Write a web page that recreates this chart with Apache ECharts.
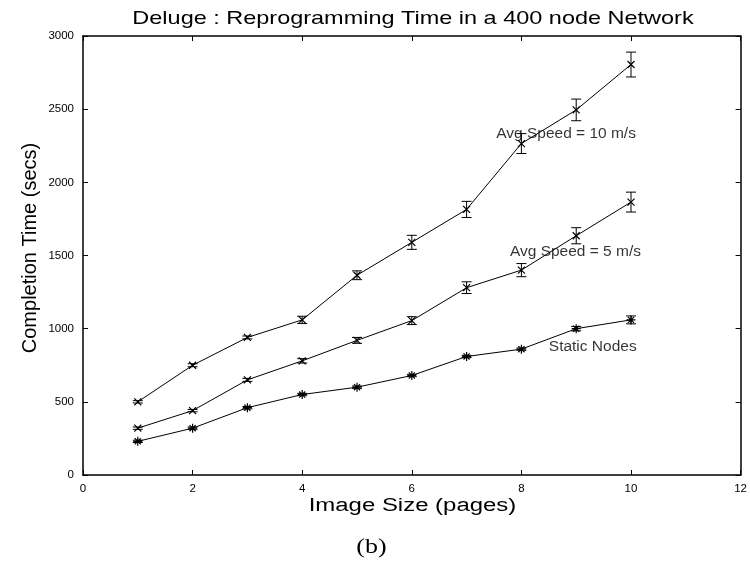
<!DOCTYPE html>
<html>
<head>
<meta charset="utf-8">
<script src="https://cdn.jsdelivr.net/npm/echarts@6/dist/echarts.min.js"></script>
<style>html,body{margin:0;padding:0;background:#fff;}#c{width:750px;height:564px;}</style>
</head>
<body>
<div id="c"></div>
<script>
const imageSizes = [1, 2, 3, 4, 5, 6, 7, 8, 9, 10];
const staticNodes = [230, 320, 460, 550, 600, 680, 810, 860, 1000, 1060];
const staticErr   = [8, 8, 8, 8, 8, 8, 8, 8, 15, 27];
const speed5      = [320, 440, 650, 780, 920, 1055, 1280, 1400, 1635, 1865];
const speed5Err   = [8, 8, 10, 15, 20, 27, 40, 45, 55, 68];
const speed10     = [500, 750, 940, 1060, 1365, 1590, 1815, 2265, 2495, 2805];
const speed10Err  = [8, 10, 10, 25, 30, 48, 55, 68, 74, 85];
const xTicks = [0, 12, 2];
const yTicks = [0, 3000, 500];
const annotations = [
  [7.54, 2330, 'Avg Speed = 10 m/s'],
  [7.79, 1524, 'Avg Speed = 5 m/s'],
  [8.50, 875, 'Static Nodes']
];
const titleText = 'Deluge : Reprogramming Time in a 400 node Network';
const xName = 'Image Size (pages)';
const yName = 'Completion Time (secs)';
const caption = '(b)';

const FONT = '"Liberation Sans", Arial, Helvetica, sans-serif';
const asterisk = 'path://M5,0L5,10M0,5L10,5M1.6,1.6L8.4,8.4M1.6,8.4L8.4,1.6';
const cross = 'path://M0,0L10,10M0,10L10,0';

function pts(vals){ return imageSizes.map((x,i)=>[x, vals[i]]); }
function errs(vals, e){ return imageSizes.map((x,i)=>[x, vals[i]-e[i], vals[i]+e[i]]); }

function lineSeries(vals, sym, size){
  return {
    type:'line', xAxisIndex:0, yAxisIndex:0, data: pts(vals),
    symbol: sym, symbolSize: size, showSymbol:true,
    lineStyle:{color:'#000', width:1},
    itemStyle:{color:'rgba(0,0,0,0)', borderColor:'#000', borderWidth:1.2},
    emphasis:{disabled:true}, animation:false, z:3
  };
}
function errSeries(vals, e){
  return {
    type:'custom', xAxisIndex:0, yAxisIndex:0, data: errs(vals, e),
    encode:{x:0, y:[1,2]}, animation:false, z:4,
    renderItem:function(params, api){
      const xv = api.value(0);
      const lo = api.coord([xv, api.value(1)]);
      const hi = api.coord([xv, api.value(2)]);
      const w = 5;
      const st = {stroke:'#000', lineWidth:1};
      return {type:'group', children:[
        {type:'line', shape:{x1:lo[0], y1:lo[1], x2:hi[0], y2:hi[1]}, style:st},
        {type:'line', shape:{x1:lo[0]-w, y1:lo[1], x2:lo[0]+w, y2:lo[1]}, style:st},
        {type:'line', shape:{x1:hi[0]-w, y1:hi[1], x2:hi[0]+w, y2:hi[1]}, style:st}
      ]};
    }
  };
}

const axisCommon = {
  axisLine:{show:true, onZero:false, lineStyle:{color:'#000', width:1.5}},
  axisTick:{show:true, inside:true, length:5, lineStyle:{color:'#000', width:1}},
  splitLine:{show:false}
};
const plain = function(v){ return String(v); };

const chart = echarts.init(document.getElementById('c'), null, {renderer:'canvas'});
chart.setOption({
  animation:false,
  backgroundColor:'#fff',
  grid:{left:83, right:7, top:36, bottom:89, containLabel:false},
  xAxis:[
    Object.assign({type:'value', position:'bottom', min:xTicks[0], max:xTicks[1], interval:xTicks[2],
      axisLabel:{color:'#000', fontSize:11.5, fontFamily:FONT, margin:8, formatter:plain}}, axisCommon),
    Object.assign({type:'value', position:'top', min:xTicks[0], max:xTicks[1], interval:xTicks[2],
      axisLabel:{show:false}}, axisCommon)
  ],
  yAxis:[
    Object.assign({type:'value', position:'left', min:yTicks[0], max:yTicks[1], interval:yTicks[2],
      axisLabel:{color:'#000', fontSize:11.5, fontFamily:FONT, margin:9, formatter:plain}}, axisCommon),
    Object.assign({type:'value', position:'right', min:yTicks[0], max:yTicks[1], interval:yTicks[2],
      axisLabel:{show:false}}, axisCommon)
  ],
  series:[
    lineSeries(speed10, cross, 7),
    lineSeries(speed5, cross, 7),
    lineSeries(staticNodes, asterisk, 9),
    errSeries(speed10, speed10Err),
    errSeries(speed5, speed5Err),
    errSeries(staticNodes, staticErr),
    {
      type:'scatter', xAxisIndex:0, yAxisIndex:0, data: annotations,
      symbolSize:0, animation:false, z:5,
      label:{show:true, position:'right', distance:0, color:'#000', fontSize:15.5, fontFamily:FONT,
        formatter:function(p){ return p.value[2]; }}
    }
  ],
  graphic:[
    {type:'text', x:413, y:19, scaleX:1.235, silent:true,
      style:{text:titleText, font:'19px '+FONT, fill:'#000', align:'center', verticalAlign:'middle', textAlign:'center', textVerticalAlign:'middle'}},
    {type:'text', x:412.5, y:506, scaleX:1.33, silent:true,
      style:{text:xName, font:'18px '+FONT, fill:'#000', align:'center', verticalAlign:'middle', textAlign:'center', textVerticalAlign:'middle'}},
    {type:'text', x:30, y:248, rotation:Math.PI/2, silent:true,
      style:{text:yName, font:'20px '+FONT, fill:'#000', align:'center', verticalAlign:'middle', textAlign:'center', textVerticalAlign:'middle'}},
    {type:'text', x:371.5, y:548, scaleX:1.3, silent:true,
      style:{text:caption, font:'20px "Liberation Serif", "DejaVu Serif", serif', fill:'#000', align:'center', verticalAlign:'middle', textAlign:'center', textVerticalAlign:'middle'}}
  ]
});
</script>
</body>
</html>
